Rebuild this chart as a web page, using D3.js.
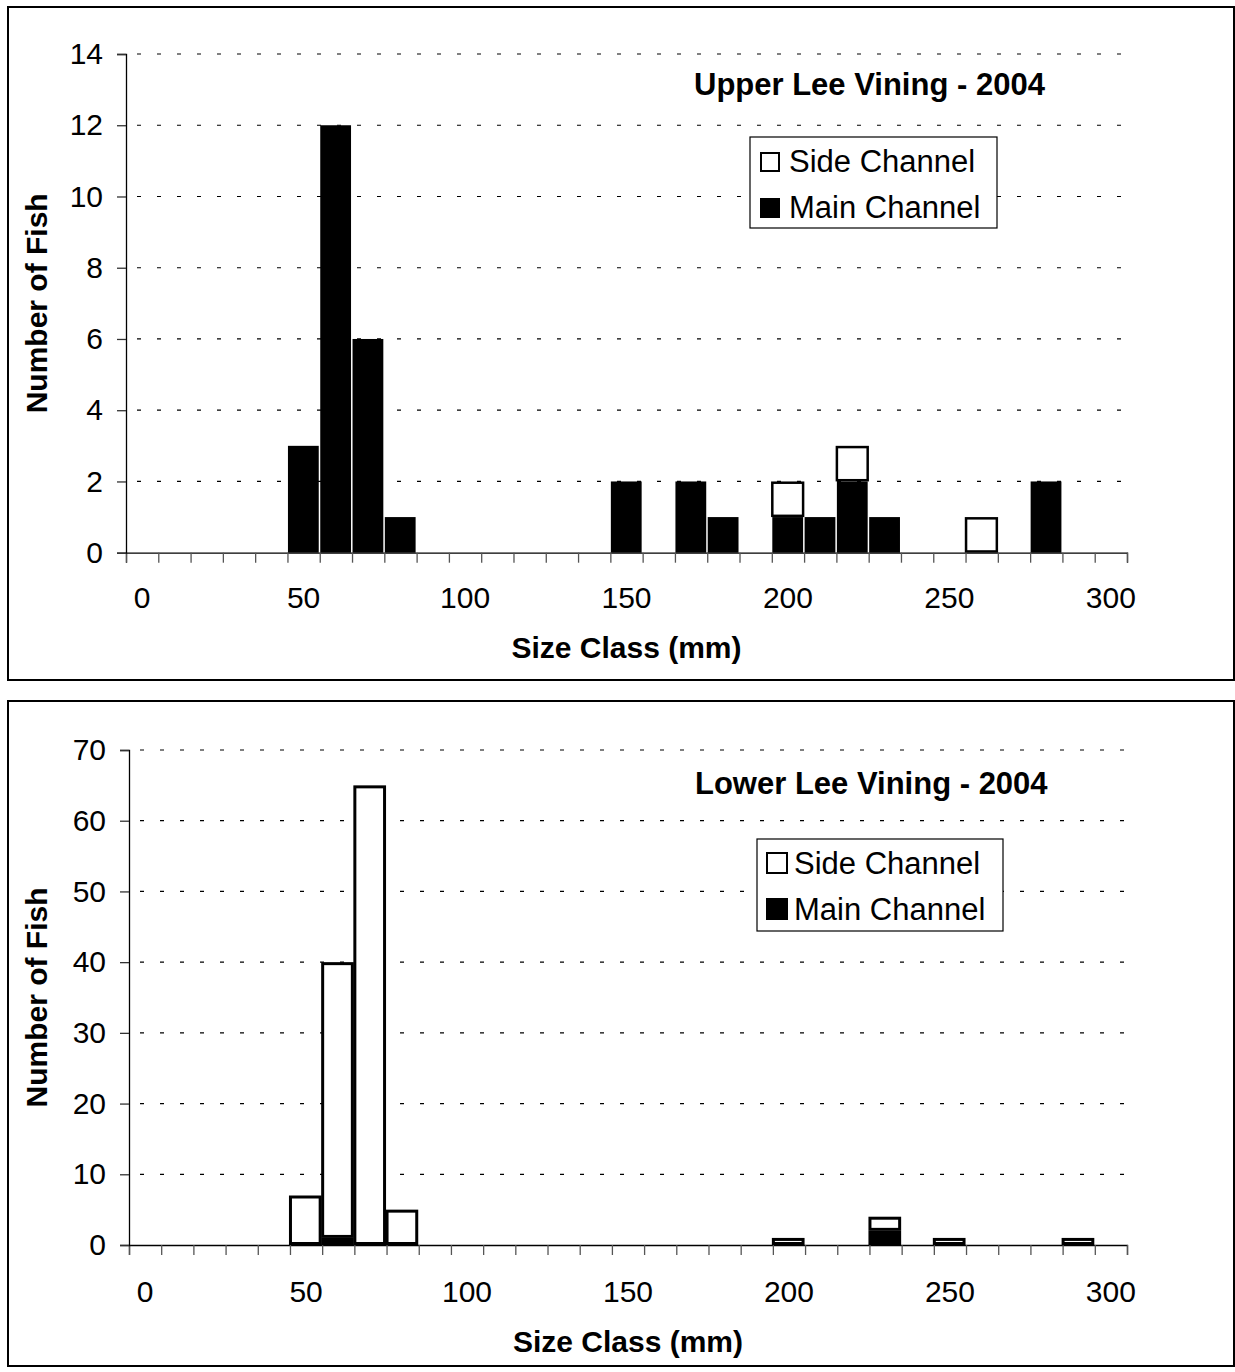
<!DOCTYPE html>
<html>
<head>
<meta charset="utf-8">
<script src="https://cdn.jsdelivr.net/npm/d3@7/dist/d3.min.js"></script>
<style>
  html, body { margin: 0; padding: 0; background: #fff; }
  svg { display: block; font-family: "Liberation Sans", Arial, sans-serif; }
</style>
</head>
<body>
<svg id="chart" width="1235" height="1372"></svg>
<script>
// Size classes (mm), one bin every 10 mm
const sizeClasses = [0, 10, 20, 30, 40, 50, 60, 70, 80, 90, 100, 110, 120, 130, 140, 150,
                     160, 170, 180, 190, 200, 210, 220, 230, 240, 250, 260, 270, 280, 290, 300];
const xTickLabels = [0, 50, 100, 150, 200, 250, 300];

// Upper Lee Vining - 2004
const upperMain = [0, 0, 0, 0, 0, 3, 12, 6, 1, 0, 0, 0, 0, 0, 0, 2, 0, 2, 1, 0, 1, 1, 2, 1, 0, 0, 0, 0, 2, 0, 0];
const upperSide = [0, 0, 0, 0, 0, 0, 0, 0, 0, 0, 0, 0, 0, 0, 0, 0, 0, 0, 0, 0, 1, 0, 1, 0, 0, 0, 1, 0, 0, 0, 0];
const upperYTicks = [0, 2, 4, 6, 8, 10, 12, 14];

// Lower Lee Vining - 2004
const lowerMain = [0, 0, 0, 0, 0, 0, 1, 0, 0, 0, 0, 0, 0, 0, 0, 0, 0, 0, 0, 0, 0, 0, 0, 2, 0, 0, 0, 0, 0, 0, 0];
const lowerSide = [0, 0, 0, 0, 0, 7, 39, 65, 5, 0, 0, 0, 0, 0, 0, 0, 0, 0, 0, 0, 1, 0, 0, 2, 0, 1, 0, 0, 0, 1, 0];
const lowerYTicks = [0, 10, 20, 30, 40, 50, 60, 70];

const seriesNames = { side: "Side Channel", main: "Main Channel" };

const TICK_FONT = 30;
const AXIS_TITLE_FONT = 30;
const PANEL_TITLE_FONT = 31;
const LEGEND_FONT = 31;

const svg = d3.select("#chart");

function drawPanel(cfg) {
  const g = svg.append("g");

  // outer frame
  g.append("rect")
    .attr("x", cfg.box[0]).attr("y", cfg.box[1])
    .attr("width", cfg.box[2]).attr("height", cfg.box[3])
    .attr("fill", "#fff").attr("stroke", "#000").attr("stroke-width", 2);

  const p = cfg.plot;
  const x = d3.scaleBand().domain(sizeClasses).range([p.left, p.right]).padding(0);
  const xEdge = d3.scaleLinear().domain([0, sizeClasses.length]).range([p.left, p.right]);
  const y = d3.scaleLinear().domain([0, d3.max(cfg.yTicks)]).range([p.bottom, p.top]);
  const bw = x.bandwidth();

  // dotted horizontal gridlines
  g.append("g").selectAll("line")
    .data(cfg.yTicks.filter(v => v > 0))
    .join("line")
    .attr("x1", p.left + 11).attr("x2", p.right)
    .attr("y1", d => y(d)).attr("y2", d => y(d))
    .attr("stroke", "#000").attr("stroke-width", 1.2)
    .attr("stroke-dasharray", "4 16");

  // stacked bars: main channel at the bottom, side channel on top
  const rows = sizeClasses.map((s, i) => ({ size: s, main: cfg.main[i], side: cfg.side[i] }));
  const stacked = d3.stack().keys(["main", "side"])(rows);

  const barG = g.append("g");
  stacked.forEach(layer => {
    const key = layer.key;
    const outlined = cfg.outlineMain || key === "side";
    barG.append("g").selectAll("rect")
      .data(layer.filter(d => d[1] - d[0] > 0))
      .join("rect")
      .attr("x", d => x(d.data.size) + cfg.barInset)
      .attr("width", bw - cfg.barInset * 2 - cfg.barTrim)
      .attr("y", d => y(d[1]) + (outlined ? cfg.strokeW / 2 : 0))
      .attr("height", d => y(d[0]) - y(d[1]) - (outlined ? cfg.strokeW : 0))
      .attr("fill", key === "main" ? "#000" : "#fff")
      .attr("stroke", outlined ? "#000" : "none")
      .attr("stroke-width", cfg.strokeW);
  });

  // x axis: ticks on every bin edge
  const xAxis = d3.axisBottom(xEdge)
    .tickValues(d3.range(sizeClasses.length + 1))
    .tickSize(10).tickFormat("");
  const xa = g.append("g").attr("transform", `translate(0,${p.bottom})`).call(xAxis);
  xa.select(".domain").attr("stroke", "#000").attr("stroke-width", 1.3);
  xa.selectAll(".tick line").attr("stroke", "#555").attr("stroke-width", 1.3);

  // x tick labels centred under every fifth bin
  g.append("g").selectAll("text")
    .data(xTickLabels)
    .join("text")
    .attr("x", d => x(d) + bw / 2)
    .attr("y", p.bottom + cfg.xLabelDy)
    .attr("text-anchor", "middle")
    .attr("font-size", TICK_FONT)
    .text(d => d);

  // y axis
  const yAxis = d3.axisLeft(y).tickValues(cfg.yTicks).tickSize(9).tickPadding(14);
  const ya = g.append("g").attr("transform", `translate(${p.left},0)`).call(yAxis);
  ya.select(".domain").attr("stroke", "#000").attr("stroke-width", 1.3);
  ya.selectAll(".tick line").attr("stroke", "#333").attr("stroke-width", 1.3);
  ya.selectAll(".tick text")
    .attr("font-size", TICK_FONT).attr("font-family", "Liberation Sans, Arial, sans-serif")
    .attr("fill", "#000");
  ya.attr("font-size", null).attr("font-family", null);

  // axis titles
  g.append("text")
    .attr("x", (p.left + p.right) / 2)
    .attr("y", p.bottom + cfg.xTitleDy)
    .attr("text-anchor", "middle")
    .attr("font-size", AXIS_TITLE_FONT).attr("font-weight", "bold")
    .text("Size Class (mm)");

  g.append("text")
    .attr("transform", `translate(${cfg.yTitleX},${(p.top + p.bottom) / 2}) rotate(-90)`)
    .attr("text-anchor", "middle")
    .attr("font-size", AXIS_TITLE_FONT).attr("font-weight", "bold")
    .text("Number of Fish");

  // panel title
  g.append("text")
    .attr("x", cfg.titlePos[0]).attr("y", cfg.titlePos[1])
    .attr("font-size", PANEL_TITLE_FONT).attr("font-weight", "bold")
    .text(cfg.title);

  // legend
  const L = cfg.legend;
  const lg = g.append("g").attr("transform", `translate(${L.x},${L.y})`);
  lg.append("rect")
    .attr("width", L.w).attr("height", L.h)
    .attr("fill", "#fff").attr("stroke", "#000").attr("stroke-width", 1.2);
  ["side", "main"].forEach((k, i) => {
    const rowY = L.rowY[i];
    lg.append("rect")
      .attr("x", L.swX + 1).attr("y", rowY - L.sw + 1)
      .attr("width", L.sw - 2).attr("height", L.sw - 2)
      .attr("fill", k === "main" ? "#000" : "#fff")
      .attr("stroke", "#000").attr("stroke-width", 2);
    lg.append("text")
      .attr("x", L.textX).attr("y", rowY)
      .attr("font-size", LEGEND_FONT)
      .text(seriesNames[k]);
  });
}

drawPanel({
  box: [8, 7, 1226, 673],
  plot: { left: 126, right: 1127, top: 54, bottom: 552.7 },
  yTicks: upperYTicks,
  main: upperMain,
  side: upperSide,
  barInset: 0.5, barTrim: 0.5, strokeW: 2.5, outlineMain: false,
  xLabelDy: 55, xTitleDy: 105, yTitleX: 47,
  title: "Upper Lee Vining - 2004", titlePos: [694, 95],
  legend: { x: 750, y: 137, w: 247, h: 91, swX: 10, sw: 20, textX: 39, rowY: [35, 81] }
});

drawPanel({
  box: [8, 701, 1226, 665],
  plot: { left: 129, right: 1127, top: 750, bottom: 1245 },
  yTicks: lowerYTicks,
  main: lowerMain,
  side: lowerSide,
  barInset: 0.5, barTrim: 1.5, strokeW: 3, outlineMain: true,
  xLabelDy: 57, xTitleDy: 107, yTitleX: 47,
  title: "Lower Lee Vining - 2004", titlePos: [695, 794],
  legend: { x: 757, y: 839, w: 246, h: 92, swX: 9, sw: 22, textX: 37, rowY: [35, 81] }
});
</script>
</body>
</html>
